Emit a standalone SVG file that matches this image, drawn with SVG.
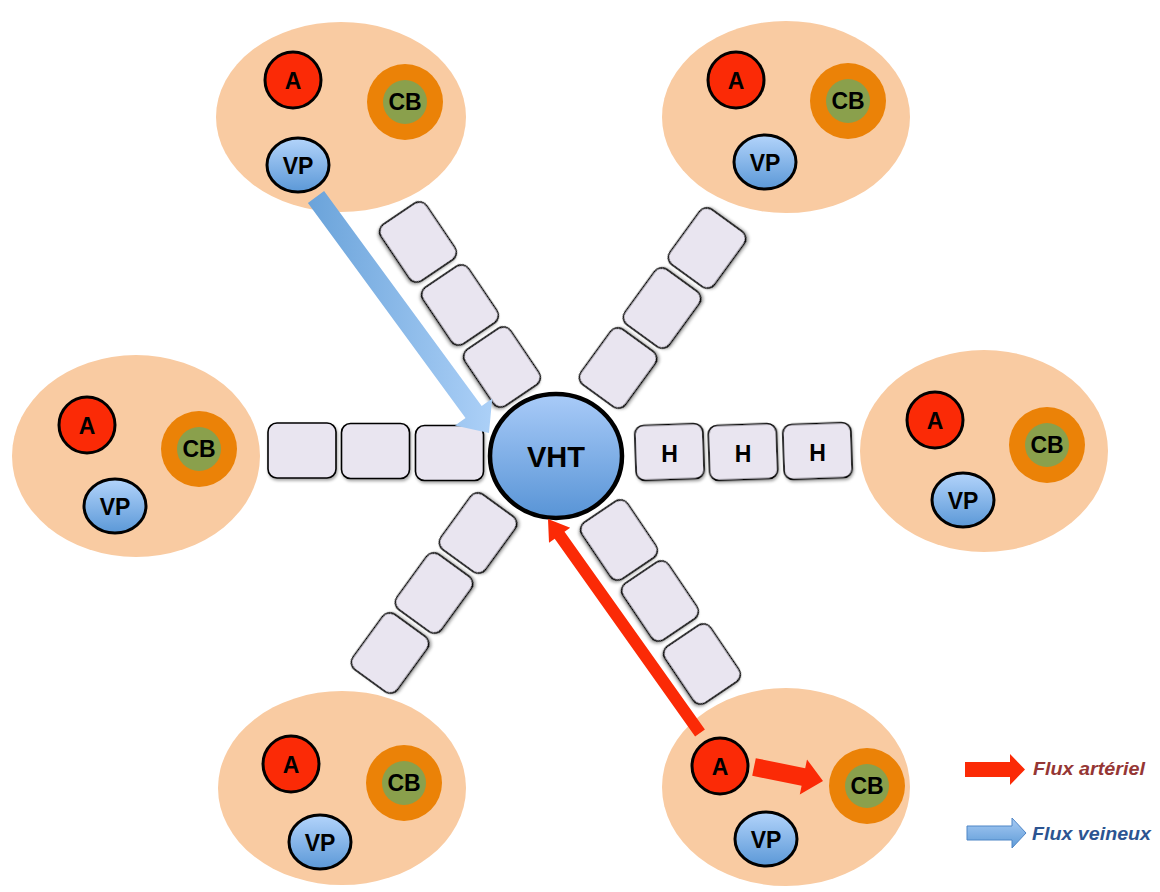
<svg xmlns="http://www.w3.org/2000/svg" width="1160" height="892" viewBox="0 0 1160 892">
<defs>
<linearGradient id="gVP" x1="0" y1="0" x2="0" y2="1"><stop offset="0" stop-color="#b3d4fb"/><stop offset="1" stop-color="#5b98d7"/></linearGradient>
<linearGradient id="gVHT" x1="0" y1="0" x2="0" y2="1"><stop offset="0" stop-color="#a9cbf8"/><stop offset="1" stop-color="#5894d6"/></linearGradient>
<linearGradient id="gBlue" x1="0" y1="0" x2="1" y2="0"><stop offset="0" stop-color="#6aa3da"/><stop offset="1" stop-color="#acd0f7"/></linearGradient>
<linearGradient id="gBlueL" x1="0" y1="0" x2="0" y2="1"><stop offset="0" stop-color="#a8cbf4"/><stop offset="1" stop-color="#5e9bd7"/></linearGradient>
<filter id="sh" x="-20%" y="-20%" width="140%" height="140%"><feDropShadow dx="1" dy="2" stdDeviation="1.5" flood-color="#000" flood-opacity="0.35"/></filter>
<rect id="cell" x="-34" y="-27.5" width="68" height="55" rx="9"/>
</defs>
<style>
.lob{fill:#f9cba2}
.A{fill:#fb2a06;stroke:#000;stroke-width:3}
.VP{fill:url(#gVP);stroke:#000;stroke-width:3}
.CBo{fill:#eb8207}
.CBi{fill:#8aa04c}
.c{fill:#e9e5f0;stroke:#000;stroke-width:1.6;filter:url(#sh)}
.t{font-family:"Liberation Sans",Arial,sans-serif;font-weight:bold;font-size:23px;fill:#000;text-anchor:middle;dominant-baseline:central}
.vht{font-size:29px}
.leg{font-family:"Liberation Sans",Arial,sans-serif;font-weight:bold;font-style:italic;font-size:18px}
</style>

<g id="lobule-top-left">
<ellipse class="lob" cx="341" cy="117" rx="125" ry="95"/>
<circle class="CBo" cx="405" cy="102" r="38"/><circle class="CBi" cx="405" cy="102" r="22"/><text class="t" x="405" y="102">CB</text>
<circle class="A" cx="293" cy="80" r="28"/><text class="t" x="293" y="81">A</text>
<ellipse class="VP" cx="298" cy="165" rx="31" ry="27"/><text class="t" x="298" y="166">VP</text>
</g>
<g id="lobule-top-right">
<ellipse class="lob" cx="786" cy="117" rx="124" ry="96"/>
<circle class="CBo" cx="848" cy="101" r="38"/><circle class="CBi" cx="848" cy="101" r="22"/><text class="t" x="848" y="101">CB</text>
<circle class="A" cx="736" cy="80" r="28"/><text class="t" x="736" y="81">A</text>
<ellipse class="VP" cx="765" cy="162" rx="31" ry="27"/><text class="t" x="765" y="163">VP</text>
</g>
<g id="lobule-left">
<ellipse class="lob" cx="136" cy="456" rx="124" ry="101"/>
<circle class="CBo" cx="199" cy="449" r="38"/><circle class="CBi" cx="199" cy="449" r="22"/><text class="t" x="199" y="449">CB</text>
<circle class="A" cx="87" cy="425" r="28"/><text class="t" x="87" y="426">A</text>
<ellipse class="VP" cx="115" cy="506" rx="31" ry="27"/><text class="t" x="115" y="507">VP</text>
</g>
<g id="lobule-right">
<ellipse class="lob" cx="984" cy="451" rx="124" ry="101"/>
<circle class="CBo" cx="1047" cy="445" r="38"/><circle class="CBi" cx="1047" cy="445" r="22"/><text class="t" x="1047" y="445">CB</text>
<circle class="A" cx="935" cy="420" r="28"/><text class="t" x="935" y="421">A</text>
<ellipse class="VP" cx="963" cy="500" rx="31" ry="27"/><text class="t" x="963" y="501">VP</text>
</g>
<g id="lobule-bottom-left">
<ellipse class="lob" cx="342" cy="788" rx="124" ry="97"/>
<circle class="CBo" cx="404" cy="783" r="38"/><circle class="CBi" cx="404" cy="783" r="22"/><text class="t" x="404" y="783">CB</text>
<circle class="A" cx="291" cy="764" r="28"/><text class="t" x="291" y="765">A</text>
<ellipse class="VP" cx="320" cy="842" rx="31" ry="27"/><text class="t" x="320" y="843">VP</text>
</g>
<g id="lobule-bottom-right">
<ellipse class="lob" cx="786" cy="787" rx="124" ry="99"/>
<circle class="CBo" cx="867" cy="786" r="38"/><circle class="CBi" cx="867" cy="786" r="22"/><text class="t" x="867" y="786">CB</text>
<circle class="A" cx="720" cy="766" r="28"/><text class="t" x="720" y="767">A</text>
<ellipse class="VP" cx="766" cy="839" rx="31" ry="27"/><text class="t" x="766" y="840">VP</text>
</g>

<g id="cells-left">
<use class="c" href="#cell" transform="translate(302,450.5)"/>
<use class="c" href="#cell" transform="translate(375.5,451)"/>
<use class="c" href="#cell" transform="translate(449.5,453)"/>
</g>
<g id="cells-right">
<use class="c" href="#cell" transform="translate(669.5,452) rotate(-2)"/><text class="t" x="669.5" y="454">H</text>
<use class="c" href="#cell" transform="translate(743,452) rotate(-2)"/><text class="t" x="743" y="454">H</text>
<use class="c" href="#cell" transform="translate(817.5,451) rotate(-2)"/><text class="t" x="817.5" y="453">H</text>
</g>
<g id="cells-upper-left">
<use class="c" href="#cell" transform="translate(418,242) rotate(56)"/>
<use class="c" href="#cell" transform="translate(460,305) rotate(56)"/>
<use class="c" href="#cell" transform="translate(502,367) rotate(56)"/>
</g>
<g id="cells-upper-right">
<use class="c" href="#cell" transform="translate(707,248) rotate(-54)"/>
<use class="c" href="#cell" transform="translate(662,308) rotate(-54)"/>
<use class="c" href="#cell" transform="translate(618,368) rotate(-54)"/>
</g>
<g id="cells-lower-left">
<use class="c" href="#cell" transform="translate(478,533) rotate(-54)"/>
<use class="c" href="#cell" transform="translate(434,593) rotate(-54)"/>
<use class="c" href="#cell" transform="translate(390,653) rotate(-54)"/>
</g>
<g id="cells-lower-right">
<use class="c" href="#cell" transform="translate(619,540) rotate(56)"/>
<use class="c" href="#cell" transform="translate(660,601) rotate(56)"/>
<use class="c" href="#cell" transform="translate(702,664) rotate(56)"/>
</g>

<g id="VHT">
<ellipse cx="556" cy="456" rx="66" ry="62" fill="url(#gVHT)" stroke="#000" stroke-width="4.5"/>
<text class="t vht" x="556" y="457">VHT</text>
</g>

<g id="connectors">
<polygon points="324.1,191.1 481.7,406.1 492.2,398.4 489,433 455,425.6 465.5,417.9 307.9,202.9" fill="url(#gBlue)"/>
<polygon points="704.9,729.5 564.5,531.8 570.2,527.8 548,519 549,542.8 554.7,538.8 695.1,736.5" fill="#fb2a06"/>
<polygon points="755.8,758.2 805.2,768.2 807,759.4 823,781 799.8,794.6 801.6,785.8 752.2,775.8" fill="#fb2a06"/>
</g>

<g id="legend">
<polygon points="965,762 1010,762 1010,754 1025,769.5 1010,785 1010,777 965,777" fill="#fb2a06"/>
<text class="leg" x="1033" y="775" fill="#953634" textLength="112" lengthAdjust="spacingAndGlyphs">Flux artériel</text>
<polygon points="967,826 1012,826 1012,818 1026,833 1012,848 1012,840 967,840" fill="url(#gBlueL)" stroke="#4f86c6" stroke-width="1"/>
<text class="leg" x="1032" y="840" fill="#2c5491" textLength="119" lengthAdjust="spacingAndGlyphs">Flux veineux</text>
</g>
</svg>
